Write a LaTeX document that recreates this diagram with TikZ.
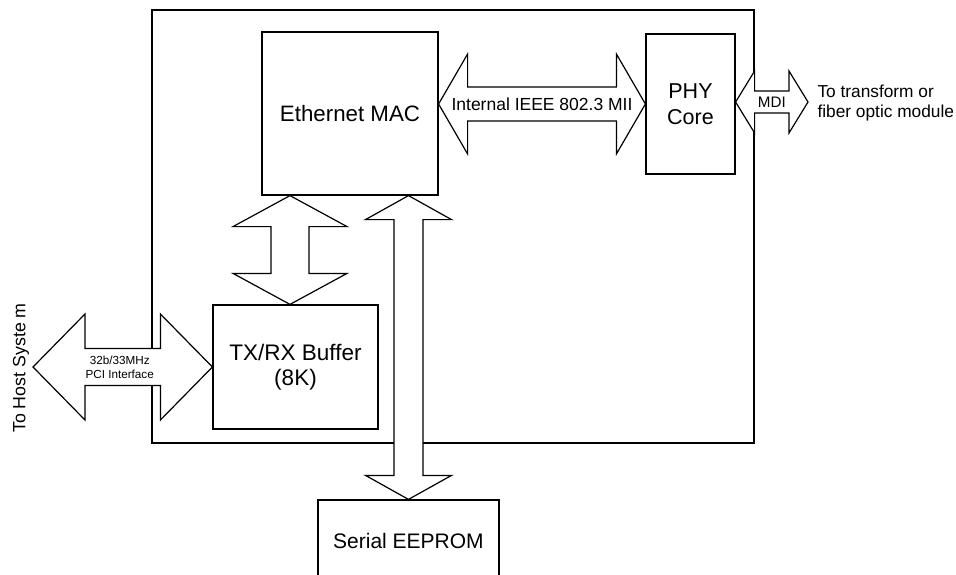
\documentclass[tikz,border=0pt]{standalone}
\usepackage{fontspec}
\setmainfont{Liberation Sans}
\usetikzlibrary{calc}

\tikzset{
  box/.style={draw, line width=1.2pt, inner sep=0pt},
  fat/.style={draw, fill=white, line width=1.2pt, line join=miter},
}
% wide two-headed arrow between two tips
\newcommand{\fatarrow}[5]{%
  \coordinate (h1) at ($(#1)!#3!(#2)$);
  \coordinate (h2) at ($(#2)!#3!(#1)$);
  \draw[fat] (#1) -- ($(h1)!#4!90:(#2)$) -- ($(h1)!#5!90:(#2)$)
    -- ($(h2)!#5!-90:(#1)$) -- ($(h2)!#4!-90:(#1)$) -- (#2)
    -- ($(h2)!#4!90:(#1)$) -- ($(h2)!#5!90:(#1)$)
    -- ($(h1)!#5!-90:(#2)$) -- ($(h1)!#4!-90:(#2)$) -- cycle;
}

\begin{document}
\begin{tikzpicture}[x=1pt,y=-1pt]
	\useasboundingbox (0,0) rectangle (956,575);

	\node[box, minimum width=602pt, minimum height=433pt] (chip) at (453,226.5) {};

	\node[box, minimum width=176pt, minimum height=163pt, font=\fontsize{22.3}{26}\selectfont] (mac) at (350,113.5) {Ethernet MAC};
	\node[box, minimum width=89pt, minimum height=140pt, align=center, font=\fontsize{21.5}{25.5}\selectfont] (phy) at (690.5,104) {PHY\\Core};
	\node[box, minimum width=165pt, minimum height=124pt, align=center, font=\fontsize{22.5}{25}\selectfont] (buf) at (295.5,367) {TX/RX Buffer\\(8K)};
	\node[box, minimum width=181pt, minimum height=82pt, font=\fontsize{21}{25}\selectfont] (eeprom) at (408.5,541) {Serial EEPROM};

	\coordinate (miil) at (mac.east |- phy.west);
	\coordinate (fiber) at (808,102);
	\coordinate (mdil) at (phy.east |- fiber);
	\coordinate (host) at (33,367);
	\path (buf.north) ++(-5.5,0) coordinate (bt);
	\coordinate (mt) at (bt |- mac.south);
	\coordinate (et) at (eeprom.north |- mac.south);

	\fatarrow{miil}{phy.west}{29pt}{50pt}{17pt}
	\fatarrow{mdil}{fiber}{19pt}{31pt}{11pt}
	\fatarrow{host}{buf.west}{52pt}{53pt}{18.5pt}
	\fatarrow{mt}{bt}{31pt}{57pt}{19pt}
	\fatarrow{et}{eeprom.north}{24pt}{43pt}{14.5pt}

	% chip edge stays visible through the MDI arrow head
	\draw[line width=1.2pt] (chip.north east) -- ($(chip.east |- fiber)+(0,-11)$)
		($(chip.east |- fiber)+(0,11)$) -- (chip.south east);

	\node[font=\fontsize{17.5}{21}\selectfont] (miitext) at ($(miil)!.5!(phy.west)$) {Internal IEEE 802.3 MII};
	\node[font=\fontsize{15.2}{18}\selectfont] (mditext) at ($(mdil)!.5!(fiber)$) {MDI};
	\node[align=center, font=\fontsize{11.7}{14}\selectfont] (pcitext) at ($(host)!.5!(buf.west)+(-3,0)$) {32b/33MHz\\PCI Interface};
	\node[anchor=west, align=left, font=\fontsize{17.3}{20.5}\selectfont] (fibertext) at (814,103) {To transform or\\fiber optic module};
	\node[rotate=90, font=\fontsize{17.8}{21}\selectfont] (hosttext) at (21,368) {To Host Syste m};
\end{tikzpicture}
\end{document}
